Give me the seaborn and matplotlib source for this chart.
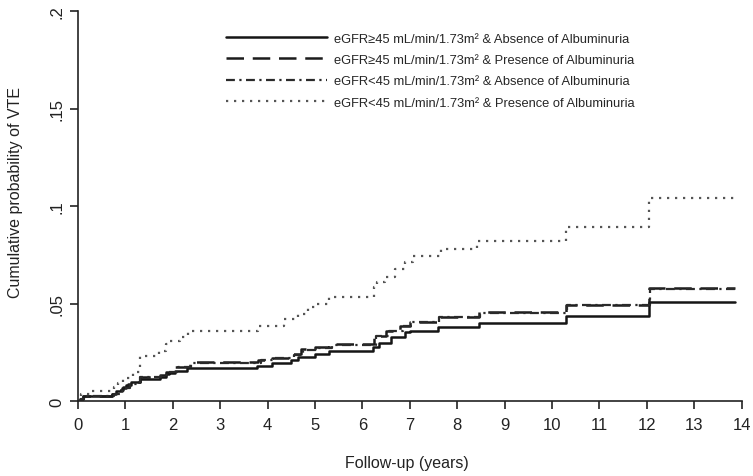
import matplotlib
matplotlib.use('Agg')
import matplotlib.pyplot as plt
import seaborn as sns
import pandas as pd

# --- data (step functions, years vs cumulative probability) ---
t_solid = [0, 0.05, 0.1, 0.72, 0.81, 0.92, 1.02, 1.12, 1.3, 1.72, 1.86, 1.93, 2.05, 2.3,
           3.77, 4.1, 4.5, 4.65, 5.0, 5.3, 6.22, 6.35, 6.6, 6.9, 7.0, 7.6, 8.45, 10.3, 12.05, 13.86]
p_solid = [0, 0.001, 0.0024, 0.0036, 0.0053, 0.0067, 0.0082, 0.0095, 0.0113, 0.0125, 0.0138, 0.0146, 0.0155, 0.017,
           0.018, 0.0195, 0.021, 0.0224, 0.024, 0.0258, 0.0275, 0.030, 0.0327, 0.0352, 0.036, 0.038, 0.040, 0.0438, 0.051, 0.051]

t_dash = [0, 0.05, 0.1, 0.72, 0.85, 0.95, 1.05, 1.15, 1.3, 1.72, 1.86, 2.05, 2.36,
          3.8, 4.1, 4.5, 4.7, 5.0, 5.3, 6.25, 6.5, 6.8, 7.0, 7.6, 8.45, 10.3, 12.05, 13.86]
p_dash = [0, 0.0012, 0.0025, 0.0038, 0.0055, 0.007, 0.0085, 0.0095, 0.0125, 0.0135, 0.015, 0.0175, 0.0198,
          0.021, 0.0222, 0.024, 0.0265, 0.0275, 0.029, 0.0335, 0.036, 0.0386, 0.0407, 0.0433, 0.0455, 0.0492, 0.058, 0.058]

t_dashdot = [0, 0.06, 0.12, 0.75, 0.88, 1.0, 1.1, 1.3, 1.75, 1.9, 2.1, 2.38,
             3.85, 4.15, 4.55, 4.75, 5.05, 5.35, 6.28, 6.55, 6.85, 7.05, 7.62, 8.48, 10.32, 12.07, 13.86]
p_dashdot = [0, 0.0012, 0.0024, 0.0036, 0.0052, 0.0068, 0.0088, 0.0122, 0.0133, 0.0148, 0.0172, 0.0196,
             0.0208, 0.022, 0.0238, 0.0262, 0.0272, 0.0288, 0.0332, 0.0357, 0.0383, 0.0404, 0.0431, 0.0452, 0.049, 0.0575, 0.0575]

t_dot = [0, 0.03, 0.07, 0.25, 0.75, 0.85, 0.95, 1.15, 1.3, 1.7, 1.85, 1.95, 2.15, 2.33,
         3.8, 4.35, 4.65, 4.85, 5.0, 5.3, 6.25, 6.3, 6.47, 6.68, 6.9, 7.07, 7.66, 8.42, 10.3, 12.05, 13.86]
p_dot = [0, 0.002, 0.0035, 0.005, 0.007, 0.009, 0.012, 0.015, 0.0229, 0.0258, 0.029, 0.031, 0.0327, 0.036,
         0.0386, 0.042, 0.0445, 0.048, 0.050, 0.0532, 0.0585, 0.061, 0.0634, 0.0677, 0.0711, 0.0742, 0.078, 0.0822, 0.089, 0.104, 0.104]

labels = [
    'eGFR≥45 mL/min/1.73m² & Absence of Albuminuria',
    'eGFR≥45 mL/min/1.73m² & Presence of Albuminuria',
    'eGFR<45 mL/min/1.73m² & Absence of Albuminuria',
    'eGFR<45 mL/min/1.73m² & Presence of Albuminuria',
]
x_ticks = list(range(0, 15))
y_ticks = [0, 0.05, 0.1, 0.15, 0.2]
y_tick_labels = ['0', '.05', '.1', '.15', '.2']

sns.set_style('ticks')
plt.rcParams['font.family'] = ['Liberation Sans', 'DejaVu Sans']

fig = plt.figure(figsize=(7.53, 4.77), dpi=100)
ax = fig.add_axes([78 / 753, 1 - 402 / 477, (741.7 - 78) / 753, (402 - 12) / 477])

series = [
    (t_solid, p_solid, '-', '#151515', 1.8),
    (t_dash, p_dash, (0, (7, 3.5)), '#1c1c1c', 1.8),
    (t_dashdot, p_dashdot, (0, (4, 2, 1, 2)), '#2a2a2a', 1.6),
    (t_dot, p_dot, (0, (1, 2.6)), '#555555', 1.6),
]
for (t, p, ls, col, lw), lab in zip(series, labels):
    df = pd.DataFrame({'t': t, 'p': p})
    sns.lineplot(data=df, x='t', y='p', ax=ax, estimator=None, drawstyle='steps-post',
                 linestyle=ls, color=col, linewidth=lw, label=lab)

ax.set_xlim(0, 14)
ax.set_ylim(0, 0.2)
ax.set_xticks(x_ticks)
ax.set_xticklabels([str(v) for v in x_ticks])
ax.set_yticks(y_ticks)
ax.set_yticklabels(y_tick_labels, rotation=90, va='center')
sns.despine(ax=ax)
for side in ['left', 'bottom']:
    ax.spines[side].set_color('#222222')
    ax.spines[side].set_linewidth(1.2)
ax.tick_params(axis='both', length=6, width=1.2, colors='#222222', labelsize=12)
ax.tick_params(axis='x', pad=5.5)
ax.tick_params(axis='y', pad=4)

ax.set_xlabel('Follow-up (years)', fontsize=11.5, color='#222222')
ax.set_ylabel('Cumulative probability of VTE', fontsize=11.5, color='#222222')
ax.xaxis.set_label_coords(0.495, -0.138)
ax.yaxis.set_label_coords(-0.083, 0.538)

ax.legend(loc='upper left', bbox_to_anchor=(0.215, 0.958), frameon=False, borderaxespad=0,
          handlelength=7.8, handletextpad=0.55, labelspacing=0.72, fontsize=9.3)

plt.savefig('out.png', dpi=100)
